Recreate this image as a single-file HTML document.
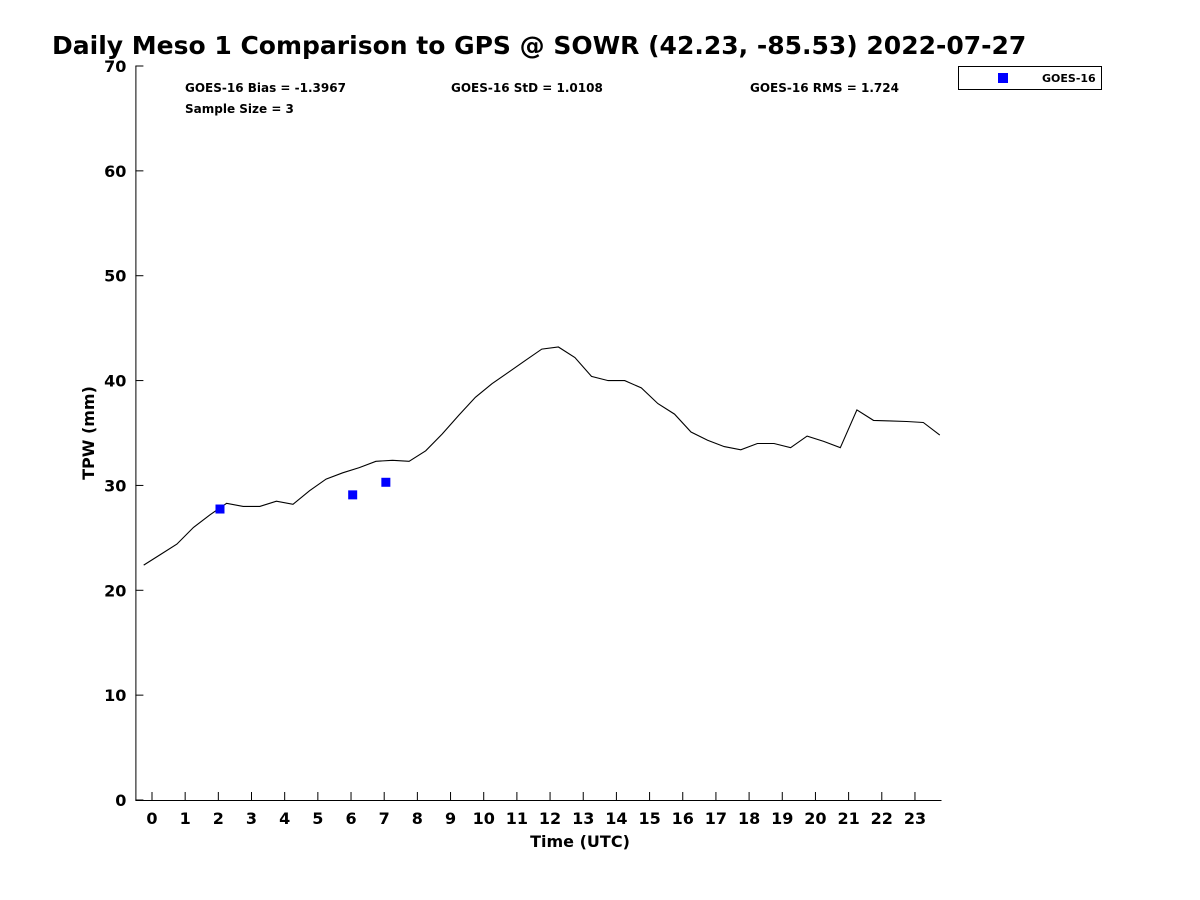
<!DOCTYPE html>
<html><head><meta charset="utf-8"><style>
body{margin:0;background:#fff;}
svg{display:block;font-family:"DejaVu Sans","Liberation Sans",sans-serif;font-weight:bold;}
</style></head><body>
<svg id="chart" width="1200" height="900" viewBox="0 0 1200 900">
<text x="52" y="54" font-size="25">Daily Meso 1 Comparison to GPS @ SOWR (42.23, -85.53) 2022-07-27</text>
<g font-size="12">
<text x="185" y="92">GOES-16 Bias = -1.3967</text>
<text x="451" y="92">GOES-16 StD = 1.0108</text>
<text x="750" y="92">GOES-16 RMS = 1.724</text>
<text x="185" y="113">Sample Size = 3</text>
</g>
<g>
<rect x="958.5" y="66.5" width="143" height="23" fill="#fff" stroke="#000" stroke-width="1"/>
<rect x="998" y="73" width="10" height="10" fill="#0000ff"/>
<text x="1042" y="82" font-size="11">GOES-16</text>
</g>
<text x="580" y="847" font-size="16" text-anchor="middle">Time (UTC)</text>
<text transform="translate(94,433) rotate(-90)" font-size="16" text-anchor="middle">TPW (mm)</text>
<g id="axes"></g>
<g id="marks"></g>
</svg>
<script>
const gpsTimes = [-0.25,0.25,0.75,1.25,1.75,2.25,2.75,3.25,3.75,4.25,4.75,5.25,5.75,6.25,6.75,7.25,7.75,8.25,8.75,9.25,9.75,10.25,10.75,11.25,11.75,12.25,12.75,13.25,13.75,14.25,14.75,15.25,15.75,16.25,16.75,17.25,17.75,18.25,18.75,19.25,19.75,20.25,20.75,21.25,21.75,22.25,22.75,23.25,23.75];
const gpsTpw = [22.4,23.4,24.4,26.0,27.2,28.3,28.0,28.0,28.5,28.2,29.5,30.6,31.2,31.7,32.3,32.4,32.3,33.3,34.9,36.7,38.4,39.7,40.8,41.9,43.0,43.2,42.2,40.4,40.0,40.0,39.3,37.8,36.8,35.1,34.3,33.7,33.4,34.0,34.0,33.6,34.7,34.2,33.6,37.2,36.2,36.15,36.1,36.0,34.8];
const goesTimes = [2.05,6.05,7.05];
const goesTpw = [27.75,29.1,30.3];
const xTicks = [0,1,2,3,4,5,6,7,8,9,10,11,12,13,14,15,16,17,18,19,20,21,22,23];
const yTicks = [0,10,20,30,40,50,60,70];

const NS="http://www.w3.org/2000/svg";
const X0=135.4,X1=941.5,XMIN=-0.5,XMAX=23.8;
const Y0=800,Y1=66,YMIN=0,YMAX=70;
const xs=t=>X0+(t-XMIN)/(XMAX-XMIN)*(X1-X0);
const ys=v=>Y0-(v-YMIN)/(YMAX-YMIN)*(Y0-Y1);
function mk(tag,attrs,parent){const e=document.createElementNS(NS,tag);for(const k in attrs)e.setAttribute(k,attrs[k]);parent.appendChild(e);return e;}
const axes=document.getElementById('axes'),marks=document.getElementById('marks');
const xa=mk('line',{x1:X0,y1:Y0+0.5,x2:X1,y2:Y0+0.5,stroke:'#000','stroke-width':1},axes);


const ya=mk('line',{x1:X0+0.5,y1:Y1,x2:X0+0.5,y2:Y0,stroke:'#000','stroke-width':1},axes);


xTicks.forEach(t=>{
  const x=xs(t);
  const l=mk('line',{x1:x,y1:Y0,x2:x,y2:Y0-8,stroke:'#000'},axes);
  
  
  const tx=mk('text',{x:x,y:Y0+24,'font-size':16,'text-anchor':'middle'},axes);
  tx.textContent=t;
  
  
});
yTicks.forEach(v=>{
  const y=ys(v);
  const l=mk('line',{x1:X0,y1:y,x2:X0+8,y2:y,stroke:'#000'},axes);
  
  
  const tx=mk('text',{x:X0-9,y:y+6,'font-size':16,'text-anchor':'end'},axes);
  tx.textContent=v;
  
  
});
const pts=gpsTimes.map((t,i)=>xs(t).toFixed(1)+','+ys(gpsTpw[i]).toFixed(1)).join(' ');
const pl=mk('polyline',{points:pts,fill:'none',stroke:'#000','stroke-width':1.1},marks);


goesTimes.forEach((t,i)=>{
  const r=mk('rect',{x:xs(t)-4.5,y:ys(goesTpw[i])-4.5,width:9,height:9,fill:'#0000ff'},marks);
  
  
});
</script>
</body></html>
